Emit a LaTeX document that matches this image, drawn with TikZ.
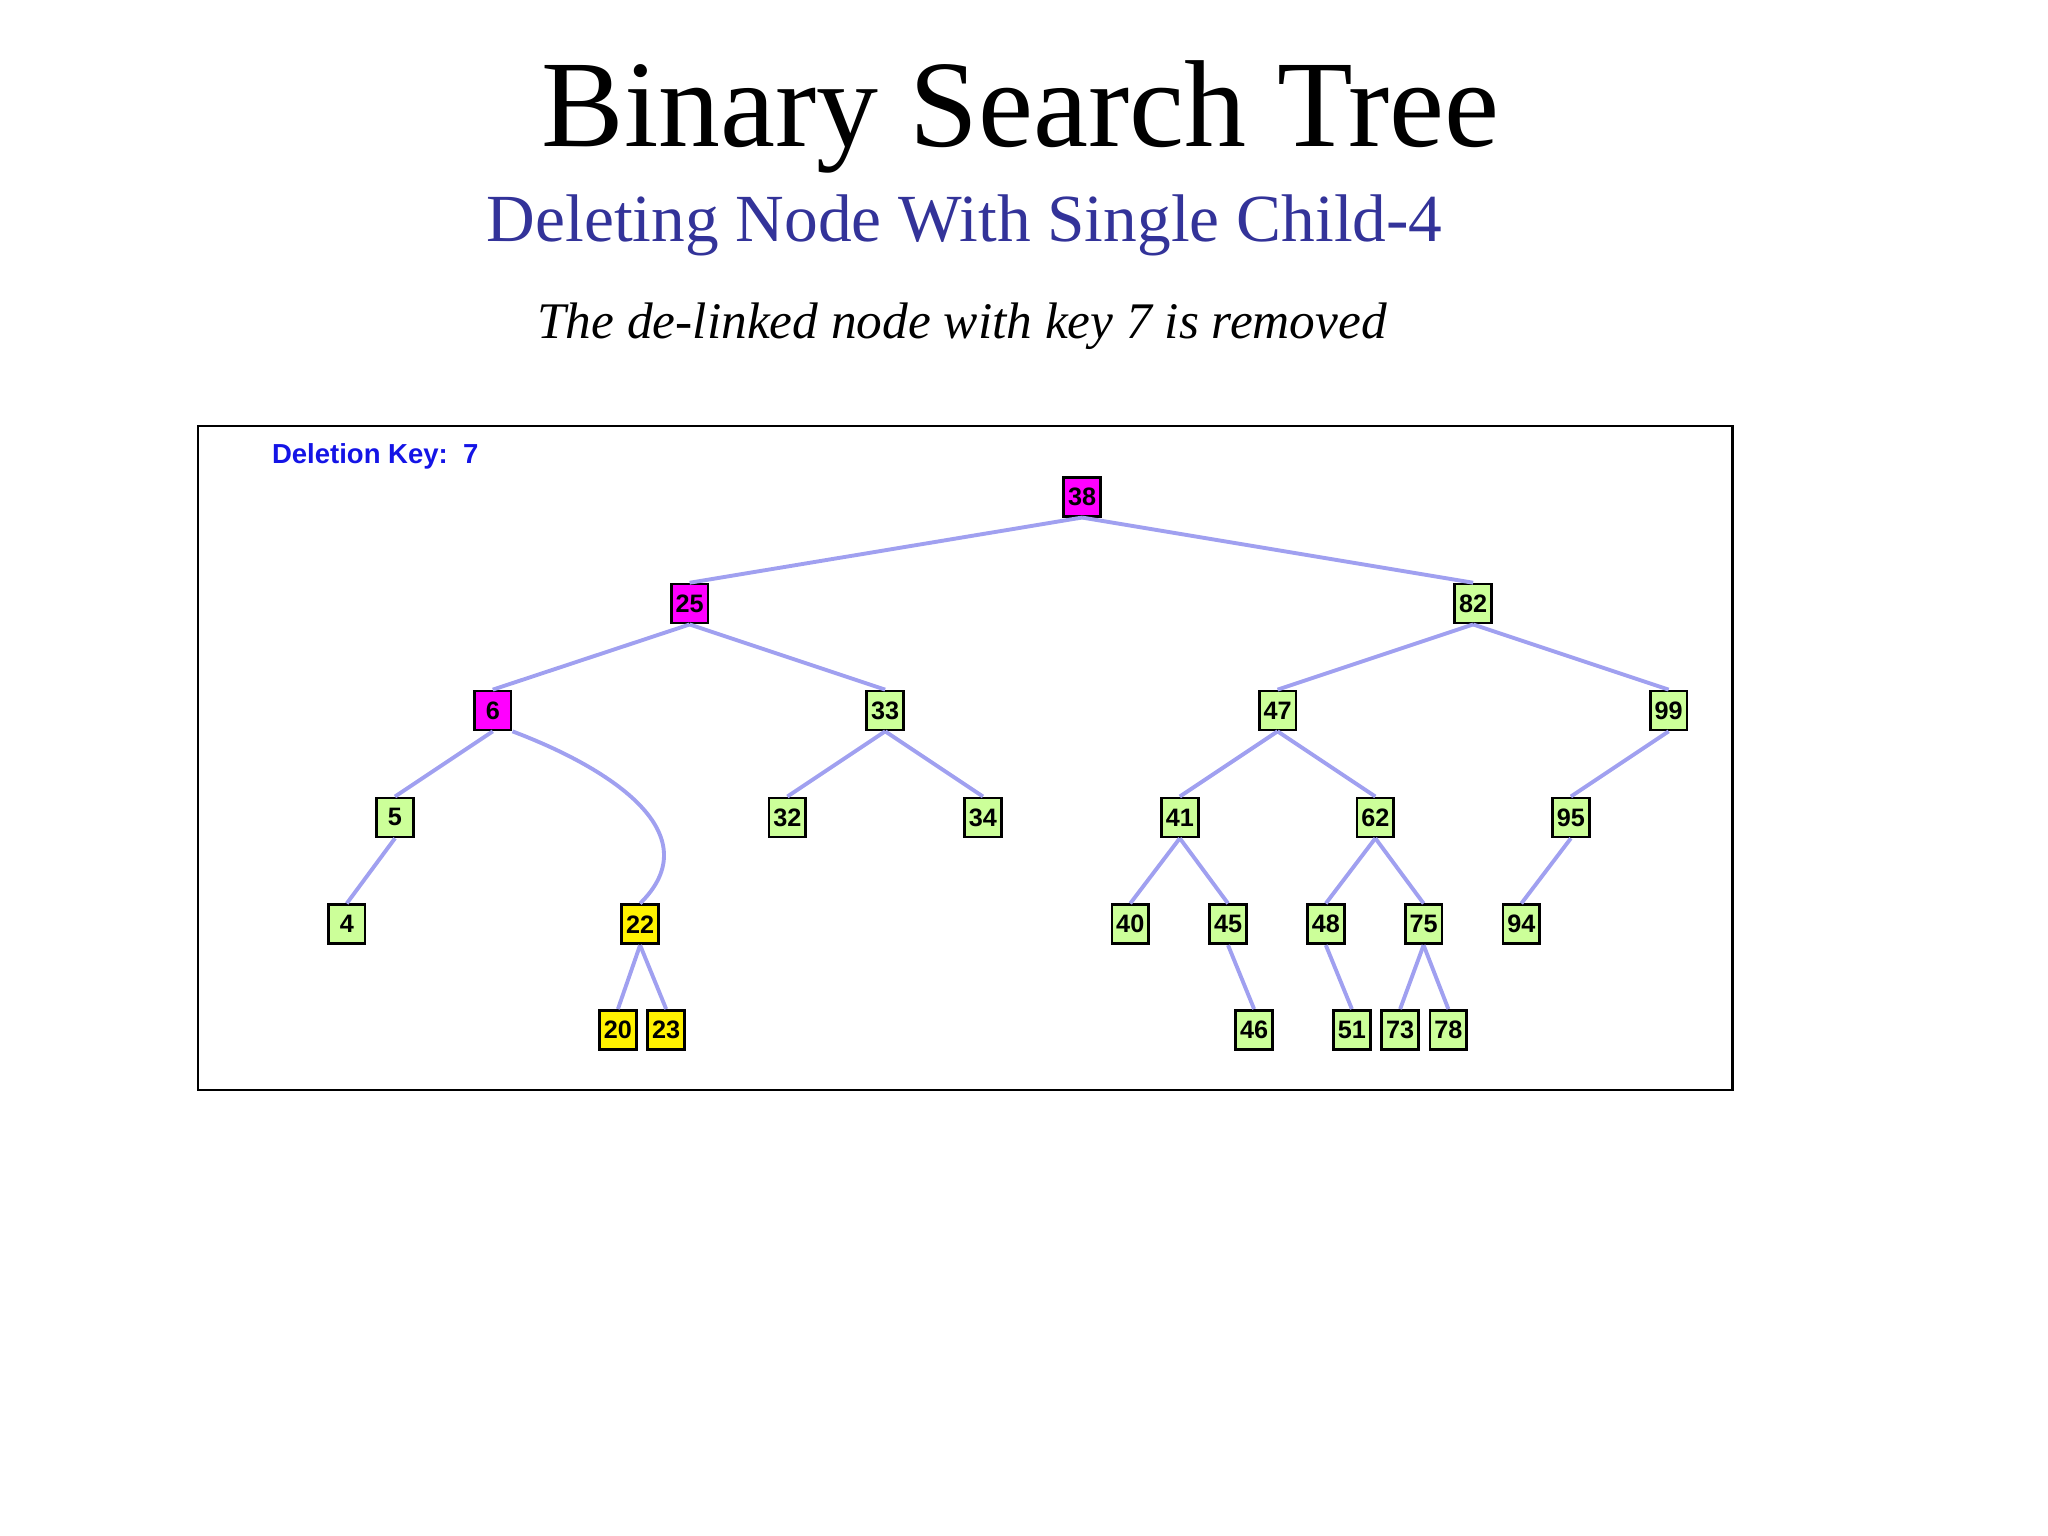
\documentclass[tikz,border=0pt]{standalone}
\usepackage{fontspec}
\setmainfont{Liberation Serif}
\setsansfont{Liberation Sans}
\begin{document}
\begin{tikzpicture}[x=0.01cm,y=-0.01cm,
 bst/.style={draw=black,line width=0.6pt,minimum width=8pt,minimum height=8.5pt,inner sep=0pt,font=\sffamily\bfseries\fontsize{5.5}{6}\selectfont},
 mg/.style={bst,fill={rgb,255:red,255;green,0;blue,255}},
 yl/.style={bst,fill=yellow},
 ed/.style={draw={rgb,255:red,160;green,160;blue,240},line width=0.85pt}]
\definecolor{gcol}{RGB}{204,255,153}
\definecolor{sub}{RGB}{51,51,153}
\tikzset{gn/.style={bst,fill=gcol}}
\useasboundingbox (0,0) rectangle (1571,1178);
\node (title) at (783,90) {\fontsize{27}{30}\selectfont Binary Search Tree};
\node[text=sub] (subt) at (740,173) {\fontsize{14.7}{17}\selectfont Deleting Node With Single Child-4};
\node (cap) at (738,250) {\fontsize{11.2}{14}\selectfont\itshape The de-linked node with key 7 is removed};
\node[draw=black,line width=0.5pt,minimum width=1177*0.01cm,minimum height=509*0.01cm,anchor=north west,inner sep=0pt] (frame) at (151,326) {};
\node[anchor=west,text={rgb,255:red,20;green,20;blue,230},font=\sffamily\bfseries\fontsize{6}{7}\selectfont,inner sep=0pt] (dk) at (208,350) {Deletion Key:\ \ 7};
\foreach \n/\x/\y/\s in {38/830/381/mg,25/529/463/mg,82/1130/463/gn,6/378/545/mg,33/679/545/gn,47/980/545/gn,99/1280/545/gn,
 5/303/627/gn,32/604/627/gn,34/754/627/gn,41/905/627/gn,62/1055/627/gn,95/1205/627/gn,
 4/266/709/gn,22/491/709/yl,40/867/709/gn,45/942/709/gn,48/1017/709/gn,75/1092/709/gn,94/1167/709/gn,
 20/474/790/yl,23/511/790/yl,46/962/790/gn,51/1037/790/gn,73/1074/790/gn,78/1111/790/gn}
 \node[\s] (n\n) at (\x,\y) {\n};
\foreach \a/\b in {38/25,38/82,25/6,25/33,82/47,82/99,6/5,33/32,33/34,47/41,47/62,99/95,5/4,41/40,41/45,62/48,62/75,95/94,22/20,22/23,45/46,48/51,75/73,75/78}
 \draw[ed] (n\a.south) -- (n\b.north);
\draw[ed] (n6.south east) .. controls (470,590) and (545,640) .. (n22.north);
\end{tikzpicture}
\end{document}
